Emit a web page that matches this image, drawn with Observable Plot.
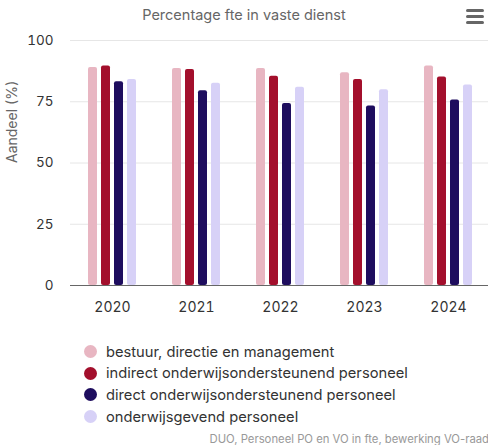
<!DOCTYPE html>
<html>
<head>
<meta charset="utf-8">
<script src="https://cdn.jsdelivr.net/npm/d3@7"></script>
<script src="https://cdn.jsdelivr.net/npm/@observablehq/plot@0.6"></script>
<style>
  body { margin: 0; background: #fff; font-family: Inter, "Noto Sans", sans-serif; }
  #wrap { position: relative; width: 488px; height: 445px; overflow: hidden; }
  #title { position: absolute; top: 6px; left: 0; width: 488px; text-align: center; font-size: 14.5px; color: #666; }
  #menu { position: absolute; left: 466px; top: 9px; width: 18px; }
  #menu div { height: 3px; background: #666; border-radius: 1.5px; margin-bottom: 3px; }
  #chart { position: absolute; top: 0; left: 0; }
  #chart svg { font-variant-numeric: tabular-nums; }
  #legend { position: absolute; top: 341px; left: 84px; }
  .item { display: flex; align-items: center; height: 21.6px; font-size: 14.7px; color: #333; }
  .dot { width: 13px; height: 13px; border-radius: 50%; margin-right: 9px; }
  #caption { position: absolute; top: 432px; right: -1px; font-size: 11.3px; color: #999; white-space: nowrap; }
</style>
</head>
<body>
<div id="wrap">
  <div id="chart"></div>
  <div id="title">Percentage fte in vaste dienst</div>
  <div id="menu"><div></div><div></div><div></div></div>
  <div id="legend"></div>
  <div id="caption">DUO, Personeel PO en VO in fte, bewerking VO-raad</div>
</div>
<script>
const years = ["2020", "2021", "2022", "2023", "2024"];
const series = [
  "bestuur, directie en management",
  "indirect onderwijsondersteunend personeel",
  "direct onderwijsondersteunend personeel",
  "onderwijsgevend personeel"
];
const colors = ["#e8b6c2", "#a30f2c", "#1e0d5e", "#d7d1f7"];
const bestuur = [89.0, 88.6, 88.6, 86.8, 89.6];
const indirect = [89.6, 88.2, 85.4, 84.1, 85.1];
const direct = [83.2, 79.5, 74.3, 73.3, 75.7];
const onderwijsgevend = [84.1, 82.6, 80.9, 79.9, 81.8];
const yTicks = [0, 25, 50, 75, 100];

const valuesBySeries = [bestuur, indirect, direct, onderwijsgevend];

// bar layout within each year band (band = 84px): 4 bars of 9px, 13px step
const barWidth = 9, barStep = 13, bandWidth = 84;
const barMarks = series.map((s, j) => {
  const off = (j - 1.5) * barStep;
  const rows = years.map((yr, i) => ({year: yr, series: s, value: valuesBySeries[j][i]}));
  return Plot.barY(rows, {
    x: "year", y: "value", fill: "series", rx: 2,
    insetLeft: (bandWidth - barWidth) / 2 + off,
    insetRight: (bandWidth - barWidth) / 2 - off
  });
});

const chart = Plot.plot({
  width: 488,
  height: 330,
  marginTop: 40,
  marginBottom: 45,
  marginLeft: 70,
  marginRight: 0,
  style: {fontFamily: "Inter, 'Noto Sans', sans-serif", background: "transparent"},
  x: {domain: years, range: [70, 70 + bandWidth * years.length], padding: 0, round: false, label: null},
  y: {domain: [0, 100], ticks: yTicks, label: null},
  color: {domain: series, range: colors},
  marks: [
    Plot.gridY(yTicks.filter(d => d > 0), {stroke: "#e6e6e6", strokeOpacity: 1}),
    ...barMarks,
    Plot.ruleY([0], {stroke: "#666", strokeWidth: 1.2}),
    Plot.axisY(yTicks, {tickSize: 0, tickPadding: 17, fontSize: 13.5, fill: "#333", label: null}),
    Plot.axisX(years, {tickSize: 0, tickPadding: 17, fontSize: 14, fill: "#333", label: null}),
    Plot.text(["Aandeel (%)"], {frameAnchor: "left", dx: -58, rotate: -90, fontSize: 14, fill: "#666"})
  ]
});
document.getElementById("chart").appendChild(chart);

const legend = document.getElementById("legend");
series.forEach((s, i) => {
  const item = document.createElement("div");
  item.className = "item";
  const dot = document.createElement("div");
  dot.className = "dot";
  dot.style.background = colors[i];
  const label = document.createElement("span");
  label.textContent = s;
  item.appendChild(dot);
  item.appendChild(label);
  legend.appendChild(item);
});
</script>
</body>
</html>
